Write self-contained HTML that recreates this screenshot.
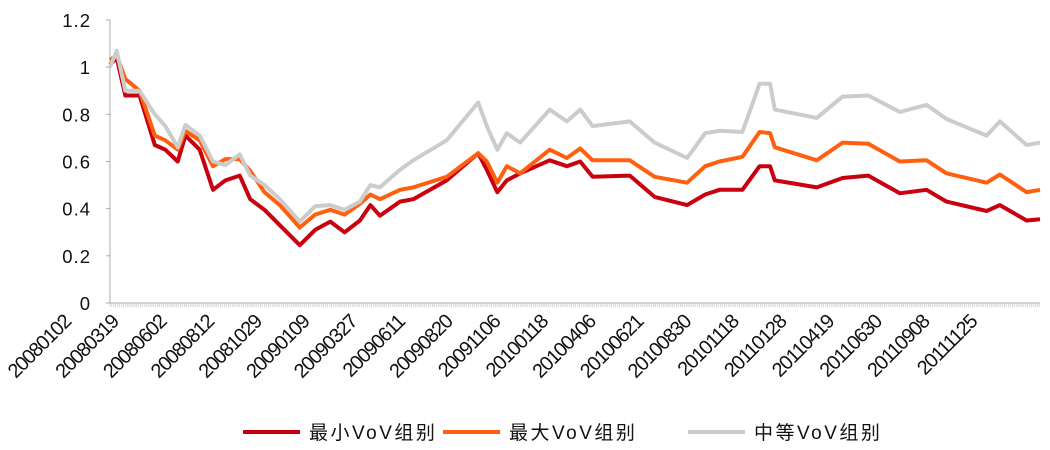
<!DOCTYPE html>
<html><head><meta charset="utf-8"><style>
body{margin:0;background:#fff;width:1050px;height:450px;overflow:hidden}
svg{display:block;font-family:"Liberation Sans","Noto Sans CJK SC",sans-serif}
</style></head><body>
<svg id="chart" width="1050" height="450" viewBox="0 0 1050 450"></svg>
<script>
const days=[0,7,16,31,47,58,71,79,94,108,121,136,147,162,178,199,215,231,246,262,273,283,304,318,353,386,395,406,416,430,461,479,493,506,545,571,605,624,639,663,681,692,697,741,768,795,828,856,877,919,933,961,975];
const midVals=[1.0,1.07,0.9,0.9,0.8,0.75,0.66,0.755,0.71,0.6,0.585,0.63,0.54,0.5,0.44,0.345,0.41,0.415,0.395,0.43,0.5,0.49,0.565,0.605,0.69,0.85,0.75,0.65,0.72,0.68,0.82,0.77,0.82,0.75,0.77,0.68,0.615,0.72,0.73,0.725,0.93,0.93,0.82,0.785,0.875,0.88,0.81,0.84,0.78,0.71,0.77,0.67,0.68];
const maxVals=[1.03,1.05,0.95,0.9,0.71,0.69,0.65,0.73,0.69,0.58,0.61,0.61,0.56,0.47,0.415,0.32,0.375,0.395,0.375,0.42,0.46,0.44,0.48,0.49,0.535,0.635,0.6,0.51,0.58,0.55,0.65,0.615,0.655,0.605,0.605,0.535,0.51,0.58,0.6,0.62,0.725,0.72,0.66,0.605,0.68,0.675,0.6,0.605,0.55,0.51,0.545,0.47,0.48];
const minVals=[1.01,1.04,0.88,0.88,0.67,0.65,0.6,0.71,0.65,0.48,0.52,0.54,0.44,0.395,0.33,0.245,0.31,0.345,0.3,0.35,0.415,0.37,0.43,0.44,0.52,0.635,0.565,0.47,0.52,0.55,0.605,0.58,0.6,0.535,0.54,0.45,0.415,0.46,0.48,0.48,0.58,0.58,0.52,0.49,0.53,0.54,0.465,0.48,0.43,0.39,0.415,0.35,0.355];
const yTicks=[0,0.2,0.4,0.6,0.8,1,1.2];
const yTickLabels=["0","0.2","0.4","0.6","0.8","1","1.2"];
const xLabels=["20080102","20080319","20080602","20080812","20081029","20090109","20090327","20090611","20090820","20091106","20100118","20100406","20100621","20100830","20101118","20110128","20110419","20110630","20110908","20111125"];
const totalDays=975, labelStep=50;
const L=110,R=1040,T=20,B=303;
const sx=d=>L+d/totalDays*(R-L);
const sy=v=>B-v/1.2*(B-T);
const svg=document.getElementById('chart');
const NS='http://www.w3.org/2000/svg';
function mk(tag,attrs,parent){const e=document.createElementNS(NS,tag);for(const k in attrs)e.setAttribute(k,attrs[k]);(parent||svg).appendChild(e);return e;}
const yAxis=mk('line',{x1:L,y1:T,x2:L,y2:B,stroke:'#aaa','stroke-width':1});


const xAxis=mk('line',{x1:L,y1:B,x2:R,y2:B,stroke:'#aaa','stroke-width':1});


yTicks.forEach((v,i)=>{
  const t=mk('line',{x1:L-4,y1:sy(v),x2:L,y2:sy(v),stroke:'#aaa'});
  
  
  const tx=mk('text',{x:91,y:sy(v)+7,'text-anchor':'end','font-size':18.5,'letter-spacing':1,fill:'#111'});
  tx.textContent=yTickLabels[i];
  
  
});
for(let d=0;d<=totalDays;d+=2){
  const t=mk('line',{x1:sx(d),y1:B,x2:sx(d),y2:B+4,stroke:'#ccc','stroke-width':0.8});
  
  
}
xLabels.forEach((lab,i)=>{
  const x=sx(i*labelStep)-38, y=323;
  const tx=mk('text',{x:x,y:y,'text-anchor':'end','font-size':20,'letter-spacing':-1.2,fill:'#111',transform:`rotate(-45 ${x} ${y})`});
  tx.textContent=lab;
  
  
});
function series(vals,color,name){
  const d=vals.map((v,i)=>(i?'L':'M')+sx(days[i]).toFixed(1)+','+sy(v).toFixed(1)).join(' ');
  const p=mk('path',{d:d,fill:'none',stroke:color,'stroke-width':4,'stroke-linejoin':'round'});
  
  
}
series(minVals,'#C8000F','series-min-vov');
series(maxVals,'#FF6010','series-max-vov');
series(midVals,'#CCCCCC','series-mid-vov');
const leg=[['#C8000F','最小VoV组别',243],['#FF6010','最大VoV组别',443],['#CCCCCC','中等VoV组别',688]];
leg.forEach(([c,t,x])=>{
  const g=mk('g',{});
  
  
  mk('line',{x1:x,y1:432,x2:x+57,y2:432,stroke:c,'stroke-width':4},g);
  const tx=mk('text',{x:x+66,y:439,'font-size':19,'letter-spacing':2.5,fill:'#111'},g);
  tx.textContent=t;
});
</script>
</body></html>
